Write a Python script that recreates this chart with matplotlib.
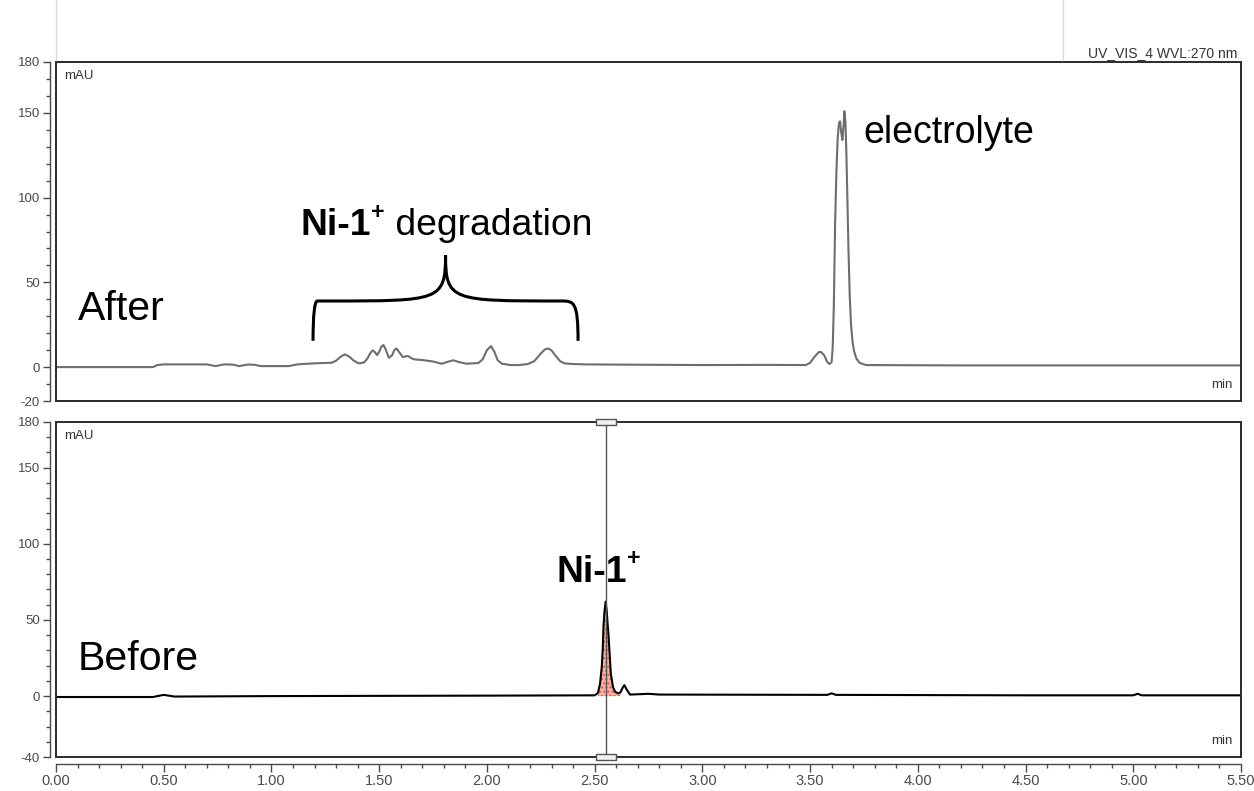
import numpy as np
import matplotlib
matplotlib.use("Agg")
import matplotlib.pyplot as plt
from matplotlib.patches import Rectangle, PathPatch
from matplotlib.path import Path
from matplotlib.ticker import MultipleLocator, FixedLocator, FormatStrFormatter
from matplotlib.lines import Line2D

plt.rcParams["font.family"] = ["Liberation Sans", "DejaVu Sans"]
plt.rcParams["axes.unicode_minus"] = False

after_t = [0.00, 0.45, 0.47, 0.50, 0.70, 0.74, 0.78, 0.82, 0.85, 0.89, 0.92, 0.95,
           1.08, 1.12, 1.17, 1.20, 1.28, 1.30, 1.32, 1.34, 1.36, 1.38, 1.40, 1.41,
           1.43, 1.445, 1.46, 1.47, 1.48, 1.49, 1.50, 1.51, 1.52, 1.53, 1.545, 1.56,
           1.57, 1.58, 1.595, 1.61, 1.625, 1.635, 1.65, 1.666, 1.70, 1.75, 1.79,
           1.82, 1.844, 1.87, 1.906, 1.96, 1.98, 2.00, 2.019, 2.035, 2.05, 2.07,
           2.11, 2.15, 2.19, 2.22, 2.25, 2.27, 2.285, 2.30, 2.32, 2.34, 2.36, 2.40,
           2.46, 2.70, 3.00, 3.30, 3.48, 3.50, 3.52, 3.54, 3.55, 3.565, 3.58, 3.59,
           3.60, 3.605, 3.61, 3.616, 3.622, 3.628, 3.634, 3.639, 3.645, 3.65, 3.655,
           3.659, 3.664, 3.668, 3.673, 3.678, 3.684, 3.69, 3.697, 3.704, 3.715,
           3.73, 3.76, 4.20, 4.80, 5.50]
after_v = [0.0, 0.0, 1.2, 1.6, 1.6, 0.6, 1.6, 1.5, 0.6, 1.5, 1.4, 0.6,
           0.6, 1.6, 2.0, 2.2, 2.6, 3.8, 6.0, 7.5, 6.3, 4.0, 2.5, 2.2,
           2.8, 5.0, 8.5, 9.9, 8.8, 7.1, 9.0, 12.0, 13.0, 10.5, 5.5, 7.0,
           10.0, 11.0, 8.5, 5.9, 6.4, 6.5, 5.2, 4.5, 4.2, 3.3, 2.0,
           3.2, 4.0, 3.0, 2.0, 2.4, 4.5, 10.0, 12.4, 9.0, 4.0, 2.0,
           1.2, 1.2, 1.8, 3.5, 8.0, 10.5, 11.0, 9.8, 6.5, 3.5, 2.2, 1.8,
           1.6, 1.4, 1.2, 1.3, 1.2, 2.5, 6.0, 8.8, 9.0, 7.0, 3.0, 1.8,
           3.0, 12.0, 35.0, 84.0, 115.0, 135.0, 144.0, 145.0, 138.0, 134.0, 142.0,
           151.0, 145.0, 128.0, 100.0, 70.0, 42.0, 25.0, 15.0, 9.5, 5.0,
           2.5, 1.2, 1.0, 1.0, 1.0]

before_t = [0.00, 0.45, 0.50, 0.55, 1.00, 2.00, 2.50, 2.515, 2.525, 2.533, 2.538,
            2.541, 2.546, 2.551, 2.556, 2.56, 2.564, 2.57, 2.575, 2.585, 2.595,
            2.61, 2.62, 2.63, 2.638, 2.648, 2.664, 2.70, 2.75, 2.80, 3.58, 3.60,
            3.62, 4.50, 5.00, 5.02, 5.04, 5.50]
before_v = [-0.6, -0.6, 0.8, -0.3, 0.0, 0.3, 0.5, 2.0, 8.0, 19.0, 32.0,
            45.6, 56.0, 62.0, 56.0, 48.0, 41.0, 27.0, 15.0, 6.0, 2.8,
            1.8, 2.5, 5.5, 7.2, 4.5, 1.0, 1.2, 1.5, 1.0, 0.8, 1.8,
            0.8, 0.5, 0.5, 1.5, 0.5, 0.5]

peak_time = 2.551
peak_window = (2.51, 2.625)
brace_span = (1.193, 2.423)

x_ticks = [0.0, 0.5, 1.0, 1.5, 2.0, 2.5, 3.0, 3.5, 4.0, 4.5, 5.0, 5.5]
top_yticks = [-20, 0, 50, 100, 150, 180]
bottom_yticks = [-40, 0, 50, 100, 150, 180]

TICK_GREY = "#4a4a4a"
FRAME = "#2b2b2b"

fig = plt.figure(figsize=(12.54, 7.91), dpi=100)
ax_top = fig.add_axes([56 / 1254, 1 - 401 / 791, 1185 / 1254, 339 / 791])
ax_bot = fig.add_axes([56 / 1254, 1 - 757 / 791, 1185 / 1254, 335 / 791])


def style_panel(ax, yticks, ylim, show_x):
    ax.set_xlim(0, 5.5)
    ax.set_ylim(*ylim)
    for side in ("top", "right"):
        ax.spines[side].set_visible(False)
    ax.spines["left"].set_position(("outward", 4.5))
    ax.spines["left"].set_color(TICK_GREY)
    ax.spines["left"].set_linewidth(1.0)
    ax.add_patch(Rectangle((0, 0), 1, 1, transform=ax.transAxes, fill=False,
                           lw=1.4, edgecolor=FRAME, clip_on=False, zorder=5))
    ax.yaxis.set_major_locator(FixedLocator(yticks))
    ax.yaxis.set_minor_locator(MultipleLocator(10))
    ax.tick_params(axis="y", which="major", length=5, width=1.0, color=TICK_GREY,
                   labelsize=9.5, labelcolor=TICK_GREY, pad=2)
    ax.tick_params(axis="y", which="minor", length=3, width=1.0, color=TICK_GREY)
    if show_x:
        ax.spines["bottom"].set_position(("outward", 5))
        ax.spines["bottom"].set_color(TICK_GREY)
        ax.spines["bottom"].set_linewidth(1.0)
        ax.xaxis.set_major_locator(FixedLocator(x_ticks))
        ax.xaxis.set_minor_locator(MultipleLocator(0.1))
        ax.xaxis.set_major_formatter(FormatStrFormatter("%.2f"))
        ax.tick_params(axis="x", which="major", length=6, width=1.0, color=TICK_GREY,
                       labelsize=10.5, labelcolor=TICK_GREY, pad=1)
        ax.tick_params(axis="x", which="minor", length=3, width=1.0, color=TICK_GREY)
    else:
        ax.spines["bottom"].set_visible(False)
        ax.set_xticks([])
    ax.text(0.007, 0.975, "mAU", transform=ax.transAxes, ha="left", va="top",
            fontsize=9.5, color="#333333")
    ax.text(0.993, 0.03, "min", transform=ax.transAxes, ha="right", va="bottom",
            fontsize=9.5, color="#333333")


def ni_label(ax, x, y, size, tail=""):
    t1 = ax.text(x, y, "Ni-1", fontsize=size, fontweight="bold", ha="left",
                 va="bottom", zorder=6)
    ax.annotate("+", xy=(1, 0.55), xycoords=t1, xytext=(0, 0), textcoords="offset points",
                fontsize=size * 0.62, fontweight="bold", ha="left", va="bottom", zorder=6)
    if tail:
        ax.annotate(tail, xy=(1, 0), xycoords=t1, xytext=(size * 0.38, 0),
                    textcoords="offset points", fontsize=size, ha="left", va="bottom",
                    zorder=6)


style_panel(ax_top, top_yticks, (-20, 180), False)
style_panel(ax_bot, bottom_yticks, (-40, 180), True)

# top: after
ax_top.plot(after_t, after_v, color="#6e6e6e", lw=1.5, zorder=3)
ax_top.text(0.102, 28, "After", fontsize=29.5, ha="left", va="baseline")
ax_top.text(3.745, 132, "electrolyte", fontsize=27, ha="left", va="baseline")
ni_label(ax_top, 1.133, 73, 26.8, " degradation")

# curly brace over the degradation region
b0, b1 = brace_span
bm = 0.5 * (b0 + b1)
y_end, y_mid, y_tip = 15.5, 39, 66
verts = [(b0, y_end), (b0, y_mid), (b0 + 0.02, y_mid), (b0 + 0.08, y_mid),
         (bm - 0.03, y_mid), (bm, y_mid), (bm, y_tip),
         (bm, y_mid), (bm + 0.03, y_mid), (b1 - 0.08, y_mid),
         (b1 - 0.02, y_mid), (b1, y_mid), (b1, y_end)]
codes = [Path.MOVETO, Path.CURVE3, Path.CURVE3, Path.LINETO,
         Path.CURVE4, Path.CURVE4, Path.CURVE4,
         Path.CURVE4, Path.CURVE4, Path.CURVE4,
         Path.CURVE4, Path.CURVE4, Path.CURVE4]
ax_top.add_patch(PathPatch(Path(verts, codes), fill=False, lw=2.2, edgecolor="black",
                           zorder=4))

# bottom: before
bt = np.array(before_t)
bv = np.array(before_v)
mask = (bt >= peak_window[0]) & (bt <= peak_window[1])
ax_bot.fill_between(bt, 0, bv, where=mask, facecolor="#f6b3a6", edgecolor="#e8553f",
                    hatch="....", lw=0, zorder=2)
ax_bot.plot(bt, bv, color="black", lw=1.5, zorder=3)
ax_bot.axvline(peak_time, color="#555555", lw=1.0, zorder=4)
box = Path([(-1.6, -0.5), (1.6, -0.5), (1.6, 0.5), (-1.6, 0.5), (-1.6, -0.5)])
ax_bot.plot([peak_time, peak_time], [180, -40], ls="none", marker=box, ms=15,
            mfc="#f2f2f2", mec="#555555", mew=1.0, clip_on=False, zorder=6)
ax_bot.text(0.102, 17, "Before", fontsize=29.5, ha="left", va="baseline")
ni_label(ax_bot, 2.325, 70, 26.8)

# header and window lines
fig.text(1237 / 1254, 1 - 57 / 791, "UV_VIS_4 WVL:270 nm", ha="right", va="baseline",
         fontsize=10, color="#333333")
fig.add_artist(Line2D([56 / 1254, 56 / 1254], [1, 1 - 60 / 791], color="#d8d8d8", lw=1))
fig.add_artist(Line2D([1063 / 1254, 1063 / 1254], [1, 1 - 60 / 791], color="#d8d8d8", lw=1))

fig.savefig("out.png", dpi=100)
